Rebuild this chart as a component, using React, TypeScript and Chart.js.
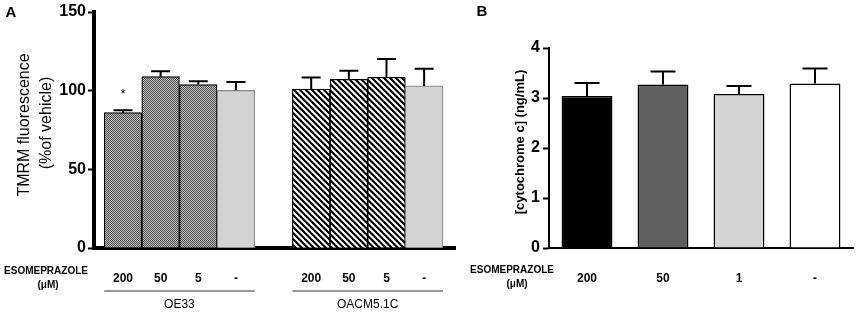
import React, { useEffect, useRef } from "react";
import { Chart, registerables } from "chart.js";

Chart.register(...registerables);

// ---------- Panel A data ----------
const panelAGroups = ["OE33", "OACM5.1C"];
const panelADoses = ["200", "50", "5", "-"];
const oe33Means = [86, 108.9, 103.9, 100.2];
const oe33Errors = [1.6, 3.4, 2.1, 5.3];
const oacmMeans = [100.9, 107.2, 108.5, 103];
const oacmErrors = [7.4, 5.5, 11.6, 11];
const panelAYTicks = [0, 50, 100, 150];

// ---------- Panel B data ----------
const panelBDoses = ["200", "50", "1", "-"];
const cytoMeans = [3.04, 3.27, 3.08, 3.29];
const cytoErrors = [0.26, 0.26, 0.16, 0.3];
const panelBYTicks = [0, 1, 2, 3, 4];

const FONT = "Arial, 'Liberation Sans', sans-serif";

function makeCheck(): CanvasPattern | string {
  const c = document.createElement("canvas");
  c.width = 2;
  c.height = 2;
  const g = c.getContext("2d");
  if (!g) return "#7a7a7a";
  g.fillStyle = "#c4c4c4";
  g.fillRect(0, 0, 2, 2);
  g.fillStyle = "#4a4a4a";
  g.fillRect(0, 0, 1, 1);
  g.fillRect(1, 1, 1, 1);
  return g.createPattern(c, "repeat") || "#7a7a7a";
}

function makeStripes(): CanvasPattern | string {
  const s = 6;
  const c = document.createElement("canvas");
  c.width = s;
  c.height = s;
  const g = c.getContext("2d");
  if (!g) return "#888";
  g.fillStyle = "#fff";
  g.fillRect(0, 0, s, s);
  g.strokeStyle = "#000";
  g.lineWidth = 2.2;
  for (const o of [-s, 0, s]) {
    g.beginPath();
    g.moveTo(o - 1, -1);
    g.lineTo(o + s + 1, s + 1);
    g.stroke();
  }
  return g.createPattern(c, "repeat") || "#888";
}

function drawErrorBars(chart: any, xs: number[], means: number[], errs: number[], half: number) {
  const ctx = chart.ctx;
  const x = chart.scales.x;
  const y = chart.scales.y;
  ctx.save();
  ctx.strokeStyle = "#000";
  ctx.lineWidth = 2;
  for (let i = 0; i < means.length; i++) {
    const px = x.getPixelForValue(xs[i]);
    const y0 = y.getPixelForValue(means[i]);
    const y1 = y.getPixelForValue(means[i] + errs[i]);
    ctx.beginPath();
    ctx.moveTo(px, y0);
    ctx.lineTo(px, y1);
    ctx.moveTo(px - half, y1);
    ctx.lineTo(px + half, y1);
    ctx.stroke();
  }
  ctx.restore();
}

function text(ctx: CanvasRenderingContext2D, s: string, x: number, y: number, font: string, rot = 0, color = "#000") {
  ctx.save();
  ctx.translate(x, y);
  if (rot) ctx.rotate(rot);
  ctx.font = font;
  ctx.fillStyle = color;
  ctx.textAlign = "center";
  ctx.textBaseline = "middle";
  ctx.fillText(s, 0, 0);
  ctx.restore();
}

function PanelA() {
  const ref = useRef<HTMLCanvasElement>(null);
  useEffect(() => {
    if (!ref.current) return;
    const check = makeCheck();
    const stripes = makeStripes();
    const positions: number[] = [];
    const labels: string[] = [];
    const means: number[] = [];
    const errs: number[] = [];
    const bg: any[] = [];
    const bc: string[] = [];
    panelAGroups.forEach((_, g) => {
      const m = g === 0 ? oe33Means : oacmMeans;
      const e = g === 0 ? oe33Errors : oacmErrors;
      panelADoses.forEach((d, i) => {
        positions.push(g * (panelADoses.length + 1) + i);
        labels.push(d);
        means.push(m[i]);
        errs.push(e[i]);
        const last = i === panelADoses.length - 1;
        bg.push(last ? "#d3d3d3" : g === 0 ? check : stripes);
        bc.push(last ? "#8a8a8a" : "#000");
      });
    });
    const labelAt = (v: number) => {
      const k = positions.indexOf(Math.round(v));
      return k >= 0 ? labels[k] : "";
    };

    const annot = {
      id: "annotA",
      afterDatasetsDraw(chart: any) {
        drawErrorBars(chart, positions, means, errs, 9.5);
      },
      afterDraw(chart: any) {
        const ctx = chart.ctx as CanvasRenderingContext2D;
        const x = chart.scales.x;
        const y = chart.scales.y;
        text(ctx, "*", x.getPixelForValue(positions[0]), y.getPixelForValue(means[0]) - 18, `13px ${FONT}`);
        text(ctx, "TMRM fluorescence", 25, 125, `16px ${FONT}`, -Math.PI / 2);
        text(ctx, "(%of vehicle)", 47, 123, `16px ${FONT}`, -Math.PI / 2);
        text(ctx, "A", 11, 13, `bold 15px ${FONT}`);
        text(ctx, "ESOMEPRAZOLE", 46, 271, `bold 10px ${FONT}`);
        text(ctx, "(\u03bcM)", 48, 285, `bold 10px ${FONT}`);
        panelAGroups.forEach((name, g) => {
          const first = positions[g * panelADoses.length];
          const lastP = positions[g * panelADoses.length + panelADoses.length - 1];
          const x0 = x.getPixelForValue(first - 0.5);
          const x1 = x.getPixelForValue(lastP + 0.5);
          ctx.save();
          ctx.strokeStyle = "#333";
          ctx.lineWidth = 1.2;
          ctx.beginPath();
          ctx.moveTo(x0, 291);
          ctx.lineTo(x1, 291);
          ctx.stroke();
          ctx.restore();
          text(ctx, name, (x0 + x1) / 2, 305, `12px ${FONT}`);
        });
      },
    };

    const chart = new Chart(ref.current, {
      type: "bar",
      data: {
        datasets: [
          {
            data: positions.map((p, i) => ({ x: p, y: means[i] })) as any,
            backgroundColor: bg,
            borderColor: bc,
            borderWidth: 1.2,
            barPercentage: 1,
            categoryPercentage: 1,
          },
        ],
      },
      options: {
        responsive: false,
        animation: false,
        devicePixelRatio: 1,
        layout: { padding: { left: 0, right: 5, top: 12, bottom: 0 } },
        plugins: { legend: { display: false }, tooltip: { enabled: false } },
        scales: {
          x: {
            type: "linear",
            offset: false,
            min: -0.77,
            max: 8.82,
            afterBuildTicks: (s: any) => {
              s.ticks = positions.map((v) => ({ value: v }));
            },
            afterFit: (s: any) => {
              s.height = 64;
            },
            ticks: {
              autoSkip: false,
              maxRotation: 0,
              padding: 15,
              color: "#000",
              font: { family: FONT, size: 12, weight: "bold" },
              callback: (v: any) => labelAt(Number(v)),
            },
            grid: { display: false },
            border: { display: true, width: 4, color: "#000" },
          },
          y: {
            min: 0,
            max: 150,
            afterBuildTicks: (s: any) => {
              s.ticks = panelAYTicks.map((v) => ({ value: v }));
            },
            afterFit: (s: any) => {
              s.width = 94;
            },
            ticks: {
              padding: 2,
              color: "#000",
              font: { family: FONT, size: 16, weight: "bold" },
            },
            grid: { drawOnChartArea: false, drawTicks: true, tickLength: 6, tickWidth: 2, tickColor: "#000" },
            border: { display: true, width: 4, color: "#000" },
          },
        },
      } as any,
      plugins: [annot],
    });
    return () => chart.destroy();
  }, []);
  return <canvas ref={ref} width={460} height={312} style={{ position: "absolute", left: 0, top: 0 }} />;
}

function PanelB() {
  const ref = useRef<HTMLCanvasElement>(null);
  useEffect(() => {
    if (!ref.current) return;
    const idx = panelBDoses.map((_, i) => i);
    const annot = {
      id: "annotB",
      afterDatasetsDraw(chart: any) {
        drawErrorBars(chart, idx, cytoMeans, cytoErrors, 12.5);
      },
      afterDraw(chart: any) {
        const ctx = chart.ctx as CanvasRenderingContext2D;
        text(ctx, "[cytochrome c] (ng/mL)", 60, 142, `bold 13px ${FONT}`, -Math.PI / 2);
        text(ctx, "B", 22, 12, `bold 15px ${FONT}`);
        text(ctx, "ESOMEPRAZOLE", 52, 270, `bold 10px ${FONT}`);
        text(ctx, "(\u03bcM)", 57, 284, `bold 10px ${FONT}`);
      },
    };
    const chart = new Chart(ref.current, {
      type: "bar",
      data: {
        labels: panelBDoses,
        datasets: [
          {
            data: cytoMeans,
            backgroundColor: ["#000000", "#606060", "#d4d4d4", "#ffffff"],
            borderColor: "#000",
            borderWidth: 1.5,
            barPercentage: 0.67,
            categoryPercentage: 1,
          },
        ],
      },
      options: {
        responsive: false,
        animation: false,
        devicePixelRatio: 1,
        layout: { padding: { left: 0, right: 3, top: 48, bottom: 0 } },
        plugins: { legend: { display: false }, tooltip: { enabled: false } },
        scales: {
          x: {
            afterFit: (s: any) => {
              s.height = 64;
            },
            ticks: {
              padding: 15,
              color: "#000",
              font: { family: FONT, size: 12, weight: "bold" },
            },
            grid: { display: false },
            border: { display: true, width: 2, color: "#000" },
          },
          y: {
            min: 0,
            max: 4,
            afterBuildTicks: (s: any) => {
              s.ticks = panelBYTicks.map((v) => ({ value: v }));
            },
            afterFit: (s: any) => {
              s.width = 89;
            },
            ticks: {
              padding: 3,
              color: "#000",
              font: { family: FONT, size: 16, weight: "bold" },
            },
            grid: { drawOnChartArea: false, drawTicks: true, tickLength: 6, tickWidth: 2, tickColor: "#000" },
            border: { display: true, width: 2, color: "#000" },
          },
        },
      } as any,
      plugins: [annot],
    });
    return () => chart.destroy();
  }, []);
  return <canvas ref={ref} width={396} height={312} style={{ position: "absolute", left: 460, top: 0 }} />;
}

export default function App() {
  return (
    <div style={{ position: "absolute", left: 0, top: 0, width: 856, height: 312, background: "#fff", overflow: "hidden" }}>
      <PanelA />
      <PanelB />
    </div>
  );
}
